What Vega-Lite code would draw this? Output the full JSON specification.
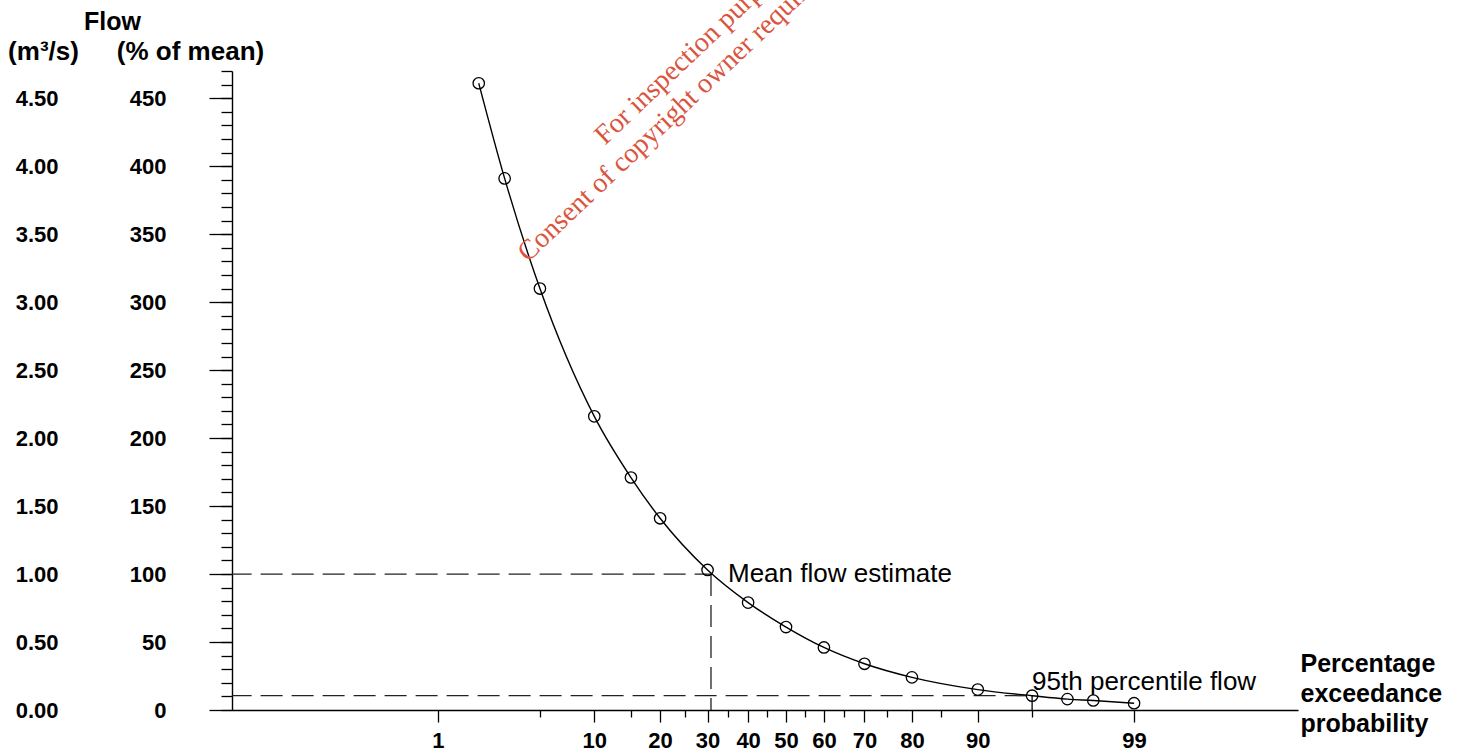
{
  "$schema": "https://vega.github.io/schema/vega-lite/v6.json",
  "width": 1066,
  "height": 639,
  "autosize": {"type": "none"},
  "padding": {"left": 232, "top": 71, "right": 168, "bottom": 44},
  "background": "white",
  "config": {
    "view": {"stroke": null},
    "font": "Liberation Sans",
    "axis": {
      "grid": false,
      "domainColor": "black",
      "tickColor": "black",
      "labelColor": "black",
      "titleColor": "black",
      "labelFont": "Liberation Sans",
      "titleFont": "Liberation Sans",
      "labelFlush": false,
      "labelOverlap": false
    }
  },
  "datasets": {
    "curve": [
      {"p": 2, "pct": 461},
      {"p": 3, "pct": 391},
      {"p": 5, "pct": 310},
      {"p": 10, "pct": 216},
      {"p": 15, "pct": 171},
      {"p": 20, "pct": 141},
      {"p": 30, "pct": 103},
      {"p": 40, "pct": 79},
      {"p": 50, "pct": 61},
      {"p": 60, "pct": 46},
      {"p": 70, "pct": 34},
      {"p": 80, "pct": 24},
      {"p": 90, "pct": 15},
      {"p": 95, "pct": 10.5},
      {"p": 97, "pct": 8},
      {"p": 98, "pct": 7},
      {"p": 99, "pct": 5}
    ],
    "dashed": [
      {"p1": 0.01, "p2": 30.8, "v1": 100, "v2": 100},
      {"p1": 30.8, "p2": 30.8, "v1": 100, "v2": 0},
      {"p1": 0.01, "p2": 95, "v1": 10.5, "v2": 10.5}
    ],
    "solid": [
      {"p1": 95, "p2": 95, "v1": 10.5, "v2": 0}
    ],
    "notes": [
      {"p": 34.9, "v": 94, "label": "Mean flow estimate"},
      {"p": 95, "v": 15, "label": "95th percentile flow"}
    ],
    "watermark": [
      {"p": 4.23, "v": 329, "label": "Consent of copyright owner required for any other use."},
      {"p": 11.3, "v": 415, "label": "For inspection purposes only."}
    ]
  },
  "resolve": {"axis": {"x": "independent", "y": "independent"}},
  "layer": [
    {
      "data": {"name": "dashed"},
      "transform": [
        {"calculate": "quantileNormal(datum.p1/100)", "as": "z1"},
        {"calculate": "quantileNormal(datum.p2/100)", "as": "z2"}
      ],
      "mark": {"type": "rule", "strokeDash": [22, 9], "color": "#222222", "strokeWidth": 1.3, "clip": true},
      "encoding": {
        "x": {"field": "z1", "type": "quantitative", "scale": {"domain": [-3.703, 3.422], "nice": false, "zero": false}, "axis": null},
        "x2": {"field": "z2"},
        "y": {"field": "v1", "type": "quantitative", "scale": {"domain": [0, 470], "nice": false}, "axis": null},
        "y2": {"field": "v2"}
      }
    },
    {
      "data": {"name": "solid"},
      "transform": [
        {"calculate": "quantileNormal(datum.p1/100)", "as": "z1"},
        {"calculate": "quantileNormal(datum.p2/100)", "as": "z2"}
      ],
      "mark": {"type": "rule", "color": "black", "strokeWidth": 1.3},
      "encoding": {
        "x": {"field": "z1", "type": "quantitative", "scale": {"domain": [-3.703, 3.422], "nice": false, "zero": false}, "axis": null},
        "x2": {"field": "z2"},
        "y": {"field": "v1", "type": "quantitative", "scale": {"domain": [0, 470], "nice": false}, "axis": null},
        "y2": {"field": "v2"}
      }
    },
    {
      "data": {"name": "curve"},
      "transform": [{"calculate": "quantileNormal(datum.p/100)", "as": "z"}],
      "mark": {"type": "line", "color": "black", "strokeWidth": 1.4, "interpolate": "monotone"},
      "encoding": {
        "x": {
          "field": "z", "type": "quantitative",
          "scale": {"domain": [-3.703, 3.422], "nice": false, "zero": false},
          "axis": {
            "orient": "bottom",
            "values": [-2.3263, -1.2816, -0.8416, -0.5244, -0.2533, 0, 0.2533, 0.5244, 0.8416, 1.2816, 2.3263],
            "labelExpr": "format(cumulativeNormal(datum.value)*100, '.0f')",
            "tickSize": 12, "tickWidth": 1.3, "domainWidth": 1.4,
            "labelPadding": 8, "labelFontSize": 22, "labelFontWeight": "bold",
            "title": ["Percentage", "exceedance", "probability"],
            "titleFontSize": 25, "titleFontWeight": "bold",
            "titleAlign": "left", "titleBaseline": "alphabetic",
            "titleX": 1068, "titleY": -39, "titleLineHeight": 30
          }
        },
        "y": {
          "field": "pct", "type": "quantitative",
          "scale": {"domain": [0, 470], "nice": false},
          "axis": {
            "orient": "left",
            "values": [0, 50, 100, 150, 200, 250, 300, 350, 400, 450],
            "format": "d",
            "tickSize": 23, "tickWidth": 1.3, "domainWidth": 1.4,
            "labelPadding": 43, "labelFontSize": 22, "labelFontWeight": "bold",
            "title": "(% of mean)", "titleAngle": 0, "titleFontSize": 26, "titleFontWeight": "bold",
            "titleAlign": "center", "titleBaseline": "alphabetic",
            "titleX": -42, "titleY": -12
          }
        }
      }
    },
    {
      "data": {"name": "curve"},
      "transform": [{"calculate": "quantileNormal(datum.p/100)", "as": "z"}],
      "mark": {"type": "point", "shape": "circle", "filled": false, "size": 130, "color": "black", "strokeWidth": 1.3, "opacity": 1},
      "encoding": {
        "x": {
          "field": "z", "type": "quantitative",
          "scale": {"domain": [-3.703, 3.422], "nice": false, "zero": false},
          "axis": {
            "orient": "bottom",
            "values": [-1.6449, -1.0364, -0.6745, -0.3853, -0.1257, 0.1257, 0.3853, 0.6745, 1.0364, 1.6449],
            "tickSize": 7, "tickWidth": 1.3, "labels": false, "domain": false, "title": null
          }
        },
        "y": {
          "field": "pct", "type": "quantitative",
          "scale": {"domain": [0, 470], "nice": false},
          "axis": {
            "orient": "left",
            "values": [0, 10, 20, 30, 40, 50, 60, 70, 80, 90, 100, 110, 120, 130, 140, 150, 160, 170, 180, 190, 200, 210, 220, 230, 240, 250, 260, 270, 280, 290, 300, 310, 320, 330, 340, 350, 360, 370, 380, 390, 400, 410, 420, 430, 440, 450, 460, 470],
            "tickSize": 11, "tickWidth": 1.3, "labels": false, "domain": false,
            "title": "Flow", "titleAngle": 0, "titleFontSize": 25, "titleFontWeight": "bold",
            "titleAlign": "center", "titleBaseline": "alphabetic",
            "titleX": -120, "titleY": -42
          }
        }
      }
    },
    {
      "data": {"name": "notes"},
      "transform": [{"calculate": "quantileNormal(datum.p/100)", "as": "z"}],
      "mark": {"type": "text", "align": "left", "baseline": "alphabetic", "fontSize": 26, "font": "Liberation Sans", "color": "black"},
      "encoding": {
        "x": {"field": "z", "type": "quantitative", "scale": {"domain": [-3.703, 3.422], "nice": false, "zero": false}, "axis": null},
        "y": {
          "field": "v", "type": "quantitative",
          "scale": {"domain": [0, 470], "nice": false},
          "axis": {
            "orient": "left",
            "values": [0, 50, 100, 150, 200, 250, 300, 350, 400, 450],
            "labelExpr": "format(datum.value/100, '.2f')",
            "ticks": false, "domain": false,
            "labelPadding": 174, "labelFontSize": 22, "labelFontWeight": "bold",
            "title": "(m³/s)", "titleAngle": 0, "titleFontSize": 26, "titleFontWeight": "bold",
            "titleAlign": "center", "titleBaseline": "alphabetic",
            "titleX": -189, "titleY": -12
          }
        },
        "text": {"field": "label"}
      }
    },
    {
      "data": {"name": "watermark"},
      "transform": [{"calculate": "quantileNormal(datum.p/100)", "as": "z"}],
      "mark": {"type": "text", "align": "left", "baseline": "alphabetic", "fontSize": 28, "font": "Liberation Serif", "color": "#da5440", "angle": -43.5},
      "encoding": {
        "x": {"field": "z", "type": "quantitative", "scale": {"domain": [-3.703, 3.422], "nice": false, "zero": false}, "axis": null},
        "y": {"field": "v", "type": "quantitative", "scale": {"domain": [0, 470], "nice": false}, "axis": null},
        "text": {"field": "label"}
      }
    }
  ]
}
